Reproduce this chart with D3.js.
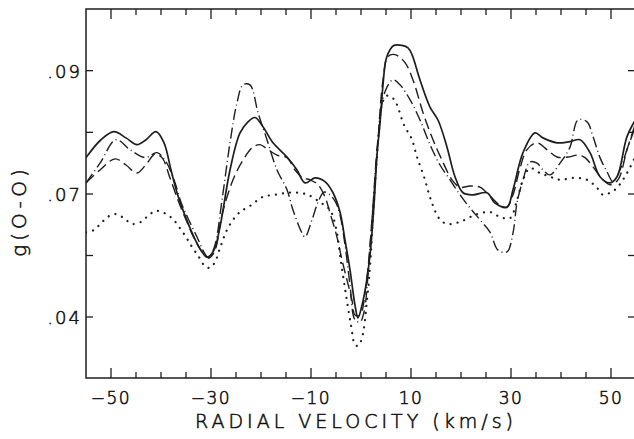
<!DOCTYPE html>
<html>
<head>
<meta charset="utf-8">
<script src="https://cdn.jsdelivr.net/npm/d3@7"></script>
<style>
  html, body { margin: 0; padding: 0; background: #fff; }
  svg text { font-family: "DejaVu Sans", sans-serif; font-weight: 200; fill: #111; stroke: #111; stroke-width: 0.55; }
</style>
</head>
<body>
<div id="vis"></div>
<script>
// radial velocity (km/s) vs g(O-O)
const solidLine = [
  [-55, .0759], [-52, .0788], [-49.4, .0801], [-47, .0791], [-44.8, .0780], [-43, .0788],
  [-41, .0801], [-39.4, .0783], [-38, .0739], [-36.8, .0702], [-35.4, .0654], [-33.4, .0595],
  [-31.8, .0559], [-30.8, .0546], [-29.4, .0563], [-28.2, .0620], [-26.2, .0739], [-24.2, .0799],
  [-22.6, .0817], [-21.2, .0824], [-19.6, .0809], [-17.6, .0783], [-14.8, .0760], [-12.8, .0739],
  [-11.2, .0718], [-9.2, .0726], [-7.2, .0720], [-5.6, .0702], [-4.2, .0656], [-3.2, .0588],
  [-2.2, .0515], [-1.2, .0429], [-0.6, .0398], [0.2, .0429], [1.0, .0478], [1.8, .0551],
  [2.6, .0673], [3.2, .0763], [3.8, .0815], [4.4, .0877], [5.0, .0918], [5.8, .0934],
  [6.6, .0941], [8.2, .0941], [9.4, .0937], [10.2, .0926], [11.8, .0885], [13.8, .0841],
  [15.4, .0820], [17.2, .0776], [18.8, .0728], [20.4, .0702], [22.4, .0698], [25.2, .0702],
  [26.8, .0678], [29.2, .0668], [30.4, .0707], [32.4, .0767], [34.8, .0799], [36.4, .0791],
  [39.2, .0783], [41.8, .0785], [43.8, .0788], [45.8, .0767], [47.8, .0728], [49.8, .0718],
  [51.2, .0728], [53.2, .0793], [55, .0822]
];

const dashedLine = [
  [-55, .0718], [-52.2, .0739], [-49.2, .0757], [-47, .0747], [-44.8, .0734], [-42.8, .0750],
  [-41.2, .0765], [-39.8, .0759], [-38.2, .0726], [-36.6, .0685], [-35, .0637], [-33.2, .0588],
  [-31.6, .0556], [-30.4, .0544], [-29.2, .0563], [-27.8, .0649], [-25.6, .0723], [-23.6, .0755],
  [-21.6, .0776], [-20.2, .0780], [-18.6, .0772], [-16.8, .0763], [-14.8, .0759], [-13.2, .0739],
  [-11.6, .0726], [-10.2, .0723], [-8.6, .0715], [-7.2, .0693], [-6.2, .0654], [-4.8, .0595],
  [-3.8, .0539], [-2.8, .0490], [-1.8, .0441], [-1.2, .0405], [-0.2, .0405], [1.0, .0478],
  [2.2, .0637], [3.4, .0788], [4.4, .0885], [5.4, .0923], [6.8, .0926], [8.8, .0913],
  [10.4, .0885], [12.4, .0832], [14.4, .0788], [16.2, .0755], [18.2, .0723], [19.8, .0711],
  [21.8, .0713], [23.8, .0711], [25.8, .0695], [27.8, .0673], [29.2, .0668], [30.4, .0698],
  [31.8, .0742], [33.2, .0772], [35.2, .0783], [37.2, .0772], [39.2, .0760], [41.4, .0760],
  [43.4, .0763], [44.8, .0759], [46.4, .0744], [48.4, .0723], [49.8, .0715], [51.4, .0723],
  [53.2, .0772], [55, .0817]
];

const dashDotLine = [
  [-55, .0718], [-52.2, .0750], [-49, .0788], [-46.2, .0772], [-43.2, .0759], [-40.8, .0767],
  [-39.2, .0755], [-37.4, .0723], [-36, .0680], [-34.6, .0641], [-32.8, .0595], [-31.2, .0554],
  [-30.4, .0544], [-29.2, .0576], [-27.8, .0685], [-26.2, .0783], [-24.8, .0848], [-23.6, .0877],
  [-22.2, .0877], [-20.6, .0832], [-18.8, .0788], [-16.8, .0739], [-14.8, .0707], [-13.6, .0661],
  [-11.8, .0605], [-11.2, .0595], [-9.8, .0637], [-8.6, .0680], [-7.4, .0703], [-6.2, .0698],
  [-5, .0678], [-4.2, .0649], [-3.2, .0576], [-2.2, .0478], [-1.2, .0393], [-0.2, .0388],
  [0.6, .0412], [1.4, .0502], [2.4, .0673], [3.4, .0788], [4.8, .0866], [6.4, .0885],
  [7.8, .0877], [9.8, .0853], [11.8, .0820], [13.8, .0780], [15.8, .0747], [17.8, .0723],
  [19.8, .0698], [21.8, .0666], [23.8, .0637], [25.8, .0607], [27.4, .0563], [29.2, .0559],
  [30.4, .0605], [31.2, .0678], [32.4, .0723], [33.8, .0752], [35.2, .0750], [36.4, .0739],
  [37.8, .0731], [39.8, .0750], [41.8, .0776], [43.4, .0820], [45.2, .0817], [46.4, .0793],
  [47.8, .0759], [49.2, .0736], [50.4, .0720], [51.8, .0739], [53.2, .0772], [55, .0812]
];

const dottedLine = [
  [-55, .0607], [-53.4, .0612], [-52, .0629], [-50.4, .0646], [-49, .0651], [-47.4, .0641],
  [-45.8, .0627], [-44, .0632], [-42.4, .0649], [-41, .0659], [-39.4, .0654], [-37.8, .0641],
  [-36.4, .0620], [-35, .0595], [-33.8, .0571], [-32.4, .0546], [-31.2, .0524], [-30.2, .0520],
  [-29.2, .0534], [-28.2, .0568], [-27, .0607], [-25.6, .0637], [-24.2, .0656], [-22.2, .0671],
  [-19.6, .0693], [-17.2, .0698], [-14.8, .0702], [-12.6, .0702], [-10.6, .0698], [-8.2, .0680],
  [-6.2, .0661], [-5, .0617], [-4, .0534], [-3, .0454], [-2, .0380], [-1.2, .0332],
  [-0.6, .0329], [0.2, .0349], [1.2, .0441], [1.8, .0522], [2.4, .0644], [3.0, .0739],
  [3.6, .0804], [4.2, .0845], [5.0, .0859], [6.0, .0858], [7.0, .0848], [8.6, .0812],
  [10.2, .0788], [11.2, .0760], [12.6, .0728], [14.0, .0685], [15.6, .0641], [17.2, .0627],
  [19.8, .0632], [22.8, .0649], [25.8, .0656], [27.8, .0644], [29.8, .0641], [31.2, .0685],
  [32.4, .0723], [33.8, .0742], [35.8, .0734], [37.8, .0728], [39.8, .0723], [42.4, .0726],
  [45.2, .0723], [47.2, .0710], [48.4, .0698], [49.8, .0702], [51.2, .0710], [53.2, .0734],
  [55, .0763]
];

const xMajor = [-50, -30, -10, 10, 30, 50];
const xMinor = [-45, -40, -35, -25, -20, -15, -5, 0, 5, 15, 20, 25, 35, 40, 45];
const yTicks = [0.09, 0.08, 0.07, 0.055, 0.04];
const yLabels = [0.09, 0.07, 0.04];

const width = 634;
const height = 439;
const margin = {left: 86, right: -2, top: 9, bottom: 61};

// the vertical axis is not uniform: .09/.07/.04 sit at equal steps
const x = d3.scaleLinear().domain([-55, 55]).range([margin.left, width - margin.right]);
const y = d3.scaleLinear()
  .domain([0.025, 0.04, 0.07, 0.10])
  .range([height - margin.bottom, 317, 194, margin.top]);

const svg = d3.select('#vis')
  .append('svg')
    .attr('width', width)
    .attr('height', height);

const plotTop = y(0.10), plotBottom = y(0.025), plotLeft = x(-55), plotRight = x(55);

svg.append('defs').append('clipPath')
    .attr('id', 'plotClip')
  .append('rect')
    .attr('x', plotLeft)
    .attr('y', plotTop)
    .attr('width', plotRight - plotLeft)
    .attr('height', plotBottom - plotTop);

const ink = '#1e1e1e';

// frame
svg.append('rect')
  .attr('x', plotLeft)
  .attr('y', plotTop)
  .attr('width', plotRight - plotLeft)
  .attr('height', plotBottom - plotTop)
  .attr('fill', 'none')
  .attr('stroke', ink)
  .attr('stroke-width', 1.5);

// ticks on all four sides, pointing inward
const xTicks = xMajor.map(v => ({v, len: 10})).concat(xMinor.map(v => ({v, len: 6})));

svg.append('g').selectAll('line')
  .data(xTicks)
  .join('line')
    .attr('x1', d => x(d.v)).attr('x2', d => x(d.v))
    .attr('y1', plotBottom).attr('y2', d => plotBottom - d.len)
    .attr('stroke', ink).attr('stroke-width', 1.3);

svg.append('g').selectAll('line')
  .data(xTicks)
  .join('line')
    .attr('x1', d => x(d.v)).attr('x2', d => x(d.v))
    .attr('y1', plotTop).attr('y2', d => plotTop + d.len)
    .attr('stroke', ink).attr('stroke-width', 1.3);

svg.append('g').selectAll('line')
  .data(yTicks)
  .join('line')
    .attr('x1', plotLeft).attr('x2', plotLeft + 7)
    .attr('y1', d => y(d)).attr('y2', d => y(d))
    .attr('stroke', ink).attr('stroke-width', 1.3);

svg.append('g').selectAll('line')
  .data(yTicks)
  .join('line')
    .attr('x1', plotRight).attr('x2', plotRight - 8)
    .attr('y1', d => y(d)).attr('y2', d => y(d))
    .attr('stroke', ink).attr('stroke-width', 1.3);

// tick labels
svg.append('g').selectAll('text')
  .data(xMajor)
  .join('text')
    .attr('x', d => x(d))
    .attr('y', plotBottom + 26)
    .attr('text-anchor', 'middle')
    .attr('font-size', 17)
    .attr('letter-spacing', 1.5)
    .text(d => d < 0 ? '\u2212' + Math.abs(d) : d);

svg.append('g').selectAll('text')
  .data(yLabels)
  .join('text')
    .attr('x', plotLeft - 4)
    .attr('y', d => y(d) + 7)
    .attr('text-anchor', 'end')
    .attr('font-size', 18)
    .attr('letter-spacing', 2)
    .text(d => d3.format('.2f')(d).replace(/^0/, ''));

// axis titles
svg.append('text')
  .attr('x', (plotLeft + width) / 2 - 4)
  .attr('y', 428)
  .attr('text-anchor', 'middle')
  .attr('font-size', 19)
  .attr('letter-spacing', 4)
  .text('RADIAL VELOCITY (km/s)');

svg.append('text')
  .attr('transform', 'translate(26,211) rotate(-90)')
  .attr('text-anchor', 'middle')
  .attr('font-size', 20)
  .attr('letter-spacing', 4)
  .text('g(O-O)');

// curves
const line = d3.line()
  .x(d => x(d[0]))
  .y(d => y(d[1]))
  .curve(d3.curveCatmullRom.alpha(0.5));

const series = [
  {data: dottedLine,  dash: '0.1,7',        w: 2.2, cap: 'round'},
  {data: dashDotLine, dash: '11,3.5,1,3.5', w: 1.4, cap: 'butt'},
  {data: dashedLine,  dash: '11,5',         w: 1.4, cap: 'butt'},
  {data: solidLine,   dash: null,           w: 1.7, cap: 'butt'}
];

svg.append('g')
    .attr('clip-path', 'url(#plotClip)')
  .selectAll('path')
  .data(series)
  .join('path')
    .attr('d', d => line(d.data))
    .attr('fill', 'none')
    .attr('stroke', ink)
    .attr('stroke-width', d => d.w)
    .attr('stroke-linecap', d => d.cap)
    .attr('stroke-dasharray', d => d.dash);
</script>
</body>
</html>
